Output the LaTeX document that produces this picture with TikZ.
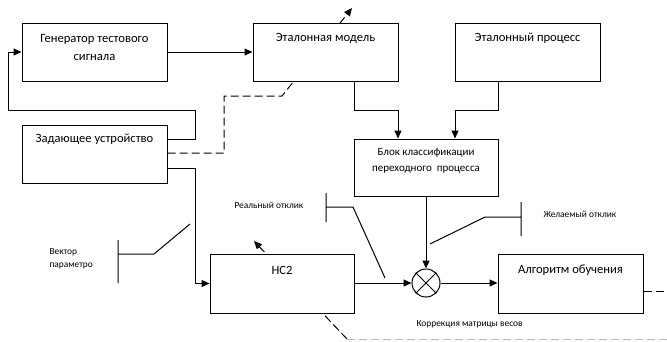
\documentclass[tikz,border=0pt]{standalone}
\usepackage{fontspec}
\setmainfont{Carlito}
\usetikzlibrary{arrows.meta}
\begin{document}
\begin{tikzpicture}[x=1pt,y=-1pt,
  line width=1pt,
  box/.style={draw,fill=white,inner sep=0pt,minimum width=145pt,minimum height=58pt},
  txt/.style={inner sep=0pt,align=center,font=\fontsize{12.6}{18}\selectfont},
  small/.style={inner sep=0pt,anchor=west,font=\fontsize{9.4}{14}\selectfont},
  arr/.style={-{Triangle[length=8pt,width=7pt]}},
  dsh/.style={dash pattern=on 8pt off 4pt}]
\useasboundingbox (0,0) rectangle (667,341);
% boxes (first group)
\node[box] (gen) at (94.5,52) {};
\node[box] (proc) at (527.5,52) {};
\node[box] (zad) at (94.5,154) {};
\node[box,minimum width=144pt,minimum height=57pt] (cls) at (426,167.5) {};
\node[box,minimum height=59pt] (alg) at (570.5,283.5) {};
\node[draw,fill=white,circle,minimum size=28pt,inner sep=0pt] (mul) at (426,283) {};
\draw (mul.north west) -- (mul.south east) (mul.north east) -- (mul.south west);
% adjustment dashed arrows (drawn before the boxes that cover them)
\coordinate (mtip) at (352,8);
\coordinate (nb) at (347,339);
\coordinate (ntip) at (254,241);
\coordinate (bend) at (667,339);
\draw[dsh,arr] (zad.east |- 0,153) -- (224,153) -- (224,96) -- (282,96) -- (mtip);
\draw[dsh,arr] (nb) -- (ntip);
\draw[dsh,gray!55] (nb) -- (bend);
% boxes (second group, on top of dashed arrows)
\node[box] (model) at (325.5,52) {};
\node[box,minimum width=144pt,minimum height=59pt] (nc) at (282,283.5) {};
% texts
\node[txt] (genT) at (94.5,47) {Генератор тестового\\сигнала};
\node[txt] (modelT) at (325.5,38) {Эталонная модель};
\node[txt] (procT) at (527.5,38) {Эталонный процесс};
\node[txt] (zadT) at (94.5,139) {Задающее устройство};
\node[txt,font=\fontsize{11}{16}\selectfont] (clsT) at (426,161) {Блок классификации\\переходного~ процесса};
\node[txt] (ncT) at (282,270) {НС2};
\node[txt] (algT) at (570.5,270) {Алгоритм обучения};
\node[small] (vecT) at (49,252) {Вектор};
\node[small] (vecT2) at (49,266) {параметро};
\node[small] (realT) at (234,205) {Реальный отклик};
\node[small] (desT) at (543,214) {Желаемый отклик};
\node[small] (corT) at (416,324) {Коррекция матрицы весов};
% connectors
\draw[arr] (gen.east) -- (model.west);
\draw[arr] (zad.east |- 0,139) -- (195,139) -- (195,110) -- (8,110) |- (gen.west);
\draw[arr] (zad.east |- 0,168) -- (195,168) |- (nc.west);
\draw[arr] (model.south -| 354,0) -- (354,110) -| (cls.north -| 398,0);
\draw[arr] (proc.south -| 498,0) -- (498,110) -| (cls.north -| 455,0);
\draw[arr] (cls.south) -- (mul.north);
\draw[arr] (nc.east |- mul.west) -- (mul.west);
\draw[arr] (mul.east) -- (alg.west |- mul.east);
\coordinate (aend) at (667,291);
\draw[dsh] (alg.east |- aend) -- (aend);
% switches
\coordinate (v1) at (118,240); \coordinate (v2) at (118,283);
\coordinate (v3) at (154,254); \coordinate (v4) at (190,224);
\draw (v1) -- (v2) (v1 |- v3) -- (v3) -- (v4);
\coordinate (r1) at (326,193); \coordinate (r2) at (326,222);
\coordinate (r3) at (353,207); \coordinate (r4) at (385,278);
\draw (r1) -- (r2) (r1 |- r3) -- (r3) -- (r4);
\coordinate (d1) at (521,202); \coordinate (d2) at (521,236);
\coordinate (d3) at (485,217); \coordinate (d4) at (430,244);
\draw (d1) -- (d2) (d1 |- d3) -- (d3) -- (d4);
\end{tikzpicture}
\end{document}
